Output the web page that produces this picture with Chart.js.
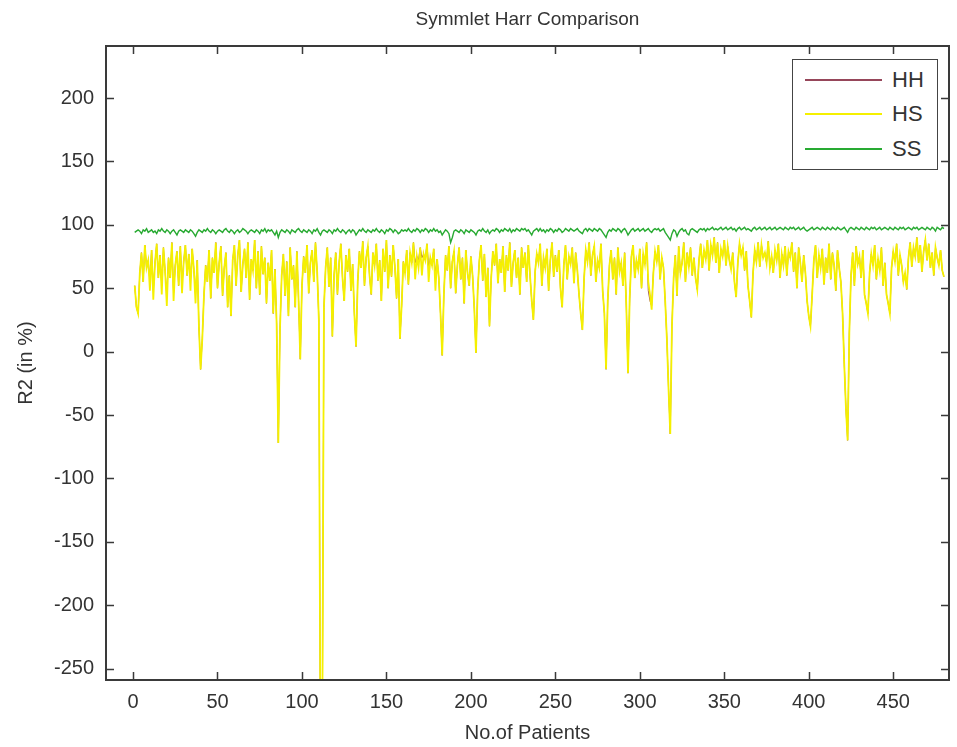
<!DOCTYPE html>
<html>
<head>
<meta charset="utf-8">
<script src="https://cdn.jsdelivr.net/npm/chart.js@4.4.1/dist/chart.umd.min.js"></script>
<style>
  html, body { margin: 0; padding: 0; background: #fff; }
  #wrap { position: relative; width: 957px; height: 747px; }
  #legend {
    position: absolute; left: 792px; top: 59px; width: 146px; height: 111px;
    border: 1.5px solid #444; background: #fff; box-sizing: border-box;
    font-family: 'Liberation Sans', Arial, sans-serif;
    font-size: 22px; color: #333;
  }
  .item { position: absolute; left: 0; height: 24px; line-height: 24px; }
  .item span.ln { position: absolute; left: 12px; width: 77px; top: 11px; height: 0; border-top: 2px solid; }
  .item span.tx { position: absolute; left: 99px; top: 0; }
</style>
</head>
<body>
<div id="wrap">
  <canvas id="myChart" width="957" height="747"></canvas>
  <div id="legend"></div>
</div>
<script>
// patient index 1..480
const patients = Array.from({length: 480}, (_, i) => i + 1);

const xTicks = [0, 50, 100, 150, 200, 250, 300, 350, 400, 450];
const yTicks = [-250, -200, -150, -100, -50, 0, 50, 100, 150, 200];

// HS R2 values
const hs = [
  52,35,30,62,78,55,84,66,72,48,
  80,41,70,85,58,76,45,82,63,36,
  74,58,86,40,68,79,52,83,46,71,
  84,60,77,48,81,65,38,72,20,-14,
  10,45,68,55,80,42,74,62,86,50,
  70,83,44,66,78,35,60,28,72,84,
  52,76,88,47,69,81,58,86,41,73,
  64,88,50,79,45,83,61,74,38,70,
  56,80,30,65,22,-72,18,60,77,44,
  71,28,82,57,68,35,79,40,-6,52,
  75,62,84,46,70,80,55,86,63,25,
  -340,-310,35,66,82,51,74,12,60,78,
  45,70,85,58,40,76,63,81,48,69,
  30,4,55,79,66,87,52,74,83,60,
  45,78,68,85,56,72,40,81,63,88,
  50,76,59,84,67,42,73,10,36,71,
  62,80,53,78,70,86,57,75,66,82,
  60,77,72,85,55,74,68,81,48,73,
  58,30,-3,45,76,64,83,50,71,79,
  46,68,82,57,74,38,80,62,52,75,
  60,34,-1,48,72,84,56,77,43,66,
  20,58,79,68,85,54,73,62,83,47,
  76,64,86,51,70,80,58,74,45,82,
  66,78,55,84,60,40,25,63,77,70,
  85,52,74,66,81,48,72,86,59,76,
  63,80,50,35,68,84,57,75,69,82,
  54,78,64,45,30,17,58,80,71,86,
  60,76,83,55,72,66,85,48,30,-14,
  40,68,80,57,74,45,82,63,70,52,
  78,35,-17,42,75,84,58,72,65,81,
  50,77,69,86,55,45,33,62,79,71,
  84,57,74,66,40,10,-30,-65,20,58,
  76,44,83,62,70,86,55,78,67,82,
  60,74,58,49,72,85,66,80,73,88,
  64,84,76,90,70,86,62,81,75,88,
  68,83,72,65,78,55,43,70,85,76,
  82,64,79,52,40,27,62,80,71,86,
  67,84,74,78,70,87,66,75,62,80,
  72,85,58,77,68,83,60,79,74,86,
  63,78,50,82,70,55,76,62,40,28,
  20,45,72,84,58,76,66,81,53,74,
  62,85,57,78,68,48,80,66,55,30,
  -10,-45,-70,15,60,78,52,83,69,75,
  58,80,45,38,30,62,77,68,84,57,
  73,64,82,52,70,45,38,30,66,79,
  71,85,60,76,68,55,62,49,74,86,
  67,82,75,90,70,84,63,79,88,72,
  85,66,78,60,82,74,68,80,64,59
];

// HH values (mostly hidden under HS)
const hh = [
  52,35,30,62,78,55,84,66,72,55,
  80,48,70,85,58,76,52,82,63,44,
  74,58,86,46,68,79,52,83,53,71,
  84,60,77,55,81,65,45,72,20,-14,
  10,45,68,55,80,42,74,62,86,50,
  70,83,44,66,78,35,60,28,72,84,
  52,76,88,47,69,81,58,86,41,73,
  64,88,50,79,45,83,61,74,38,70,
  56,80,30,65,22,-72,18,60,77,44,
  71,28,82,57,68,35,79,40,-6,52,
  75,62,84,46,70,80,55,86,63,25,
  -340,-310,35,66,82,51,74,12,60,78,
  45,70,85,58,40,76,63,81,48,69,
  30,4,55,79,66,87,52,74,83,60,
  45,78,68,85,56,72,40,81,63,88,
  50,76,59,84,67,42,73,10,36,71,
  62,80,53,78,70,86,70,75,72,82,
  74,77,72,85,66,74,68,81,60,73,
  58,30,-3,45,76,64,83,50,71,79,
  46,68,82,57,74,38,80,62,52,75,
  60,34,-1,48,72,84,56,77,43,66,
  20,58,79,68,85,54,73,62,83,47,
  76,64,86,51,70,80,58,74,45,82,
  66,78,55,84,60,40,25,63,77,70,
  85,52,74,66,81,48,72,86,59,76,
  63,80,50,35,68,84,57,75,69,82,
  54,78,64,45,30,17,58,80,71,86,
  60,76,83,55,72,66,85,48,30,-14,
  40,68,80,57,74,45,82,63,70,52,
  78,35,-17,42,75,84,58,72,65,81,
  50,77,69,86,48,40,36,62,79,71,
  84,57,74,66,40,10,-30,-65,20,58,
  76,44,83,62,70,86,55,78,67,82,
  60,74,58,49,72,85,66,80,73,88,
  64,84,76,90,70,86,62,81,75,88,
  68,83,72,65,78,55,43,70,85,76,
  82,64,79,52,40,27,62,80,71,86,
  67,84,74,78,70,87,66,75,62,80,
  72,85,58,77,68,83,60,79,74,86,
  63,78,50,82,70,55,76,62,40,28,
  20,45,72,84,58,76,66,81,53,74,
  62,85,57,78,68,48,80,66,55,30,
  -10,-45,-70,15,60,78,52,83,69,75,
  58,80,45,38,30,62,77,68,84,57,
  73,64,82,52,70,45,38,30,66,79,
  71,85,60,76,68,55,62,49,74,86,
  67,82,75,90,70,84,63,79,88,72,
  85,66,78,60,82,74,68,80,64,59
];

// SS values
const ss = [
  94,95,96,95,93,96,95,97,94,95,
  96,94,95,93,96,95,97,95,94,96,
  95,93,95,96,94,92,95,96,95,94,
  96,95,94,96,95,93,91,94,96,95,
  94,96,95,97,95,94,96,95,93,95,
  96,95,94,96,97,95,94,96,95,93,
  95,96,94,95,97,96,95,93,95,96,
  95,94,96,95,93,96,95,97,94,96,
  95,96,94,92,95,90,94,96,95,94,
  96,95,93,96,95,94,96,97,95,94,
  96,95,94,96,95,93,96,95,97,94,
  92,95,96,95,94,96,95,93,96,95,
  97,95,94,96,95,93,95,96,94,96,
  95,92,94,96,95,97,95,94,96,95,
  94,96,95,97,95,94,96,95,93,96,
  95,97,96,94,96,95,93,94,96,95,
  96,95,97,95,94,96,95,97,96,94,
  96,95,97,96,94,96,95,97,95,96,
  94,95,92,94,96,95,93,86,90,95,
  96,95,94,96,95,93,96,95,94,96,
  95,94,92,95,96,95,97,95,94,96,
  93,95,96,95,97,96,94,96,95,97,
  96,95,97,94,96,95,97,96,95,97,
  96,97,95,96,94,92,95,96,97,95,
  97,95,96,94,96,95,97,96,94,96,
  95,97,96,94,95,97,96,95,97,96,
  95,96,97,95,94,93,96,97,95,97,
  96,95,97,96,95,97,96,94,92,90,
  94,96,95,97,96,95,97,96,94,96,
  97,95,92,94,96,97,95,96,97,95,
  96,97,95,96,97,95,94,96,97,96,
  97,95,96,97,94,92,90,88,93,96,
  95,91,94,96,97,95,96,93,92,96,
  97,96,95,94,96,97,96,97,95,97,
  96,97,98,96,97,96,97,98,96,97,
  98,96,97,98,96,97,95,97,98,96,
  97,98,96,97,96,95,97,98,96,97,
  98,96,97,98,96,97,98,96,97,98,
  96,97,98,97,96,98,97,96,98,97,
  98,96,97,98,96,97,98,96,95,96,
  97,98,96,97,98,97,96,98,97,96,
  98,97,96,98,97,96,98,97,96,97,
  98,96,94,97,98,97,96,98,97,96,
  98,97,96,98,97,96,98,97,98,96,
  97,98,96,97,98,97,96,98,97,96,
  98,97,96,98,97,98,96,97,98,97,
  96,98,97,98,96,97,98,97,96,98,
  97,96,98,97,95,98,97,96,98,97
];

const seriesNames = ['HH', 'HS', 'SS'];
const seriesColors = ['rgb(150, 70, 90)', 'rgb(245, 240, 0)', 'rgb(40, 170, 50)'];
const seriesWidths = [1, 1.8, 1.4];

const FONT = "'Liberation Sans', Arial, sans-serif";
const pts = arr => arr.map((v, i) => ({x: patients[i], y: v}));

const data = {
  datasets: [hh, hs, ss].map((arr, i) => ({
    label: seriesNames[i],
    data: pts(arr),
    borderColor: seriesColors[i],
    backgroundColor: seriesColors[i],
    borderWidth: seriesWidths[i],
    pointRadius: 0,
    tension: 0,
    order: 2 - i
  }))
};

// MATLAB style box with inward ticks
const boxTicks = {
  id: 'boxTicks',
  afterDatasetsDraw(chart) {
    const {ctx, chartArea: a, scales: {x, y}} = chart;
    const len = 8;
    ctx.save();
    ctx.strokeStyle = '#3a3a3a';
    ctx.lineWidth = 1.5;
    ctx.beginPath();
    xTicks.forEach(v => {
      const px = Math.round(x.getPixelForValue(v)) + 0.5;
      ctx.moveTo(px, a.bottom); ctx.lineTo(px, a.bottom - len);
      ctx.moveTo(px, a.top); ctx.lineTo(px, a.top + len);
    });
    yTicks.forEach(v => {
      const py = Math.round(y.getPixelForValue(v)) + 0.5;
      ctx.moveTo(a.left, py); ctx.lineTo(a.left + len, py);
      ctx.moveTo(a.right, py); ctx.lineTo(a.right - len, py);
    });
    ctx.stroke();
    ctx.lineWidth = 2;
    ctx.strokeRect(a.left, a.top, a.right - a.left, a.bottom - a.top);
    ctx.restore();
  }
};

const config = {
  type: 'line',
  data: data,
  options: {
    responsive: false,
    animation: false,
    devicePixelRatio: 1,
    layout: {padding: {left: 0, right: 8, top: 0, bottom: 0}},
    plugins: {
      legend: {display: false},
      tooltip: {enabled: false}
    },
    scales: {
      x: {
        type: 'linear',
        min: -16,
        max: 483,
        grid: {display: false},
        border: {display: false},
        afterFit: s => { s.height = 67; },
        afterBuildTicks: s => { s.ticks = xTicks.map(v => ({value: v})); },
        ticks: {color: '#333', padding: 2, maxRotation: 0, autoSkip: false,
          font: {family: FONT, size: 20}},
        title: {display: true, text: 'No.of Patients', color: '#333',
          font: {family: FONT, size: 20}, padding: {top: 0, bottom: 2}}
      },
      // top axis only carries the plot title, centred over the axes box
      top: {
        type: 'linear',
        position: 'top',
        min: -16,
        max: 483,
        grid: {display: false},
        border: {display: false},
        ticks: {display: false},
        afterFit: s => { s.height = 46; },
        title: {display: true, text: 'Symmlet Harr Comparison', color: '#333',
          font: {family: FONT, size: 19}, padding: {top: 8, bottom: 0}}
      },
      y: {
        min: -259,
        max: 241,
        grid: {display: false},
        border: {display: false},
        afterFit: s => { s.width = 106; },
        afterBuildTicks: s => { s.ticks = yTicks.map(v => ({value: v})); },
        ticks: {color: '#333', padding: 4, autoSkip: false,
          font: {family: FONT, size: 20}},
        title: {display: true, text: 'R2 (in %)', color: '#333',
          font: {family: FONT, size: 20}, padding: {top: 14, bottom: 0}}
      }
    }
  },
  plugins: [boxTicks]
};

const myChart = new Chart(document.getElementById('myChart'), config);

// legend inside the axes, top right
const legendEl = document.getElementById('legend');
const itemTops = [8, 42, 77];
data.datasets.forEach((ds, i) => {
  const it = document.createElement('div');
  it.className = 'item';
  it.style.top = itemTops[i] + 'px';
  it.innerHTML = '<span class="ln" style="border-color:' + ds.borderColor + '"></span>' +
    '<span class="tx">' + ds.label + '</span>';
  legendEl.appendChild(it);
});
</script>
</body>
</html>
